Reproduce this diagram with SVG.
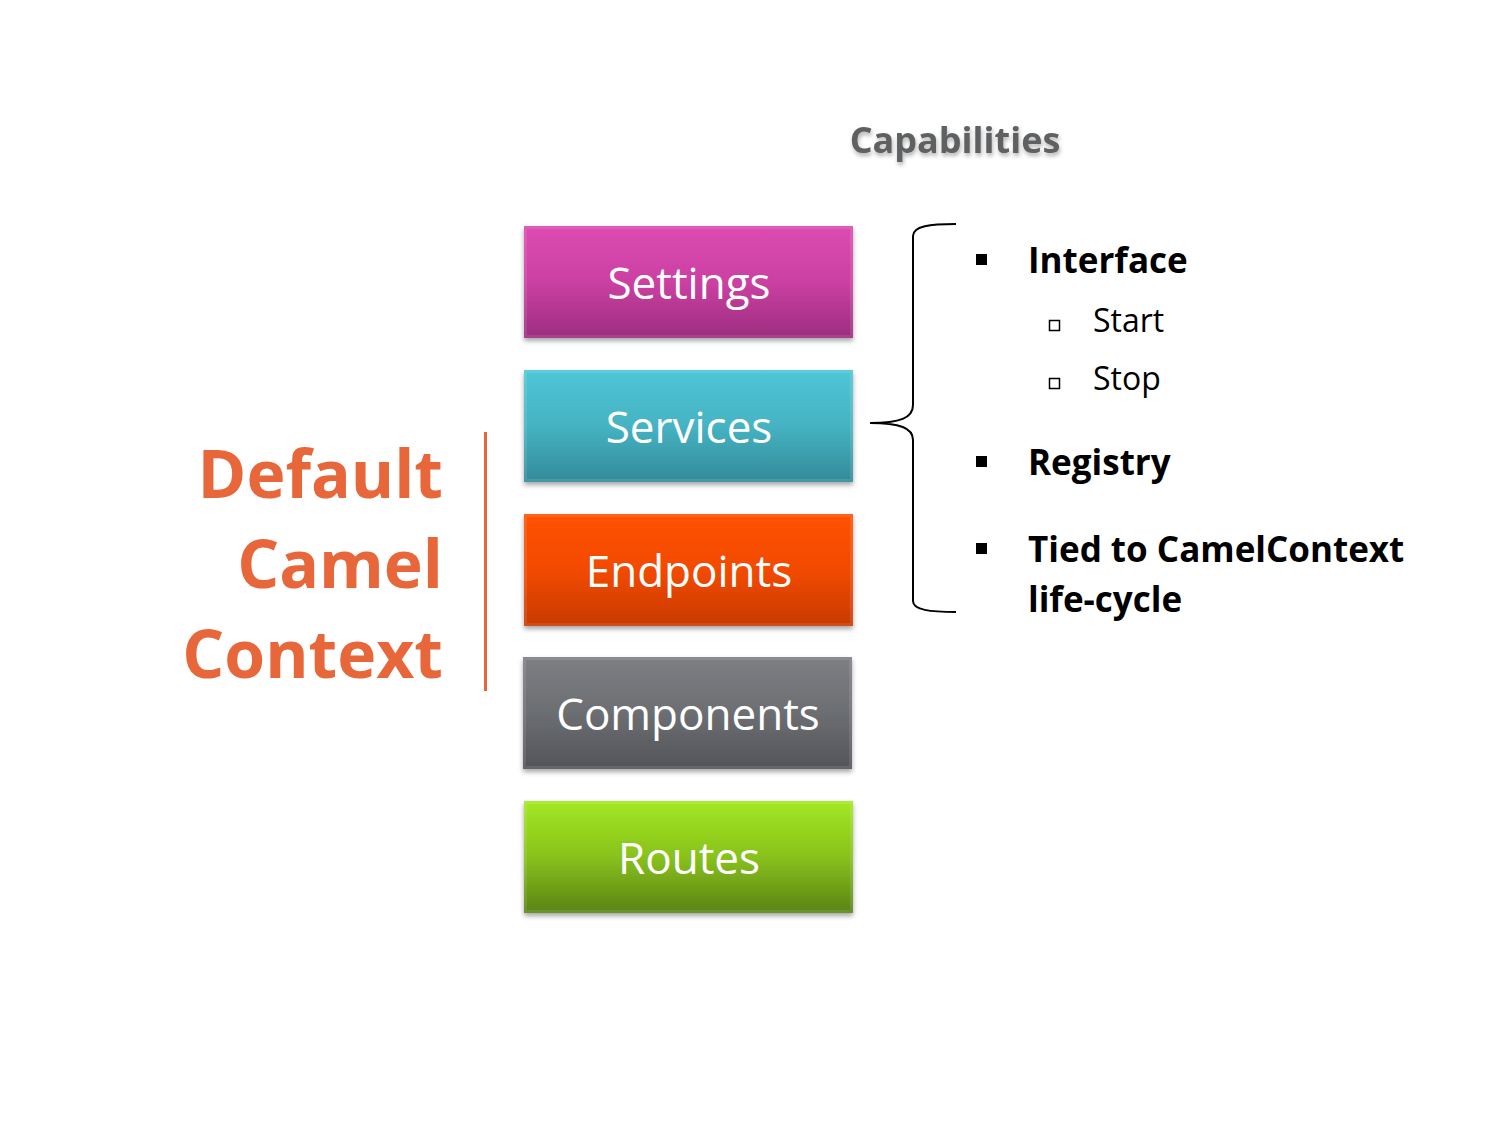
<svg xmlns="http://www.w3.org/2000/svg" width="1500" height="1125" viewBox="0 0 1500 1125">
<defs>
<linearGradient id="gSet" x1="0" y1="0" x2="0" y2="1"><stop offset="0" stop-color="#DC4BB2"/><stop offset="0.5" stop-color="#CB40A3"/><stop offset="1" stop-color="#9C2D7E"/></linearGradient>
<linearGradient id="gSer" x1="0" y1="0" x2="0" y2="1"><stop offset="0" stop-color="#4FC6D6"/><stop offset="0.5" stop-color="#45B3C3"/><stop offset="1" stop-color="#338A98"/></linearGradient>
<linearGradient id="gEnd" x1="0" y1="0" x2="0" y2="1"><stop offset="0" stop-color="#FF5206"/><stop offset="0.5" stop-color="#F24A04"/><stop offset="1" stop-color="#C83A02"/></linearGradient>
<linearGradient id="gCom" x1="0" y1="0" x2="0" y2="1"><stop offset="0" stop-color="#7D7F83"/><stop offset="0.5" stop-color="#6C6E72"/><stop offset="1" stop-color="#525458"/></linearGradient>
<linearGradient id="gRou" x1="0" y1="0" x2="0" y2="1"><stop offset="0" stop-color="#A4E822"/><stop offset="0.5" stop-color="#88C11C"/><stop offset="1" stop-color="#5A8316"/></linearGradient>
<filter id="sh" x="-10%" y="-10%" width="120%" height="130%"><feDropShadow dx="0" dy="3" stdDeviation="2.5" flood-color="#000" flood-opacity="0.35"/></filter>
<filter id="tsh" x="-10%" y="-20%" width="120%" height="150%"><feDropShadow dx="1" dy="3" stdDeviation="2" flood-color="#000" flood-opacity="0.3"/></filter>
</defs>
<style>
.lbl{font-family:"Open Sans","Noto Sans","DejaVu Sans",sans-serif;font-size:44px;fill:#fff;text-anchor:middle}
.bev{fill:none;stroke:#fff;stroke-opacity:0.1;stroke-width:3}
.title{font-family:"Open Sans","Noto Sans",sans-serif;font-weight:bold;font-size:66px;fill:#E8673A;text-anchor:end}
.b1{font-family:"Open Sans","Noto Sans",sans-serif;font-weight:bold;font-size:35px;fill:#000}
.b2{font-family:"Open Sans","Noto Sans",sans-serif;font-size:32px;fill:#000}
</style>
<rect width="1500" height="1125" fill="#fff"/>
<text x="955" y="153" font-family="'Open Sans','Noto Sans',sans-serif" font-weight="bold" font-size="36" fill="#5F6062" text-anchor="middle" filter="url(#tsh)">Capabilities</text>
<g id="title">
<text class="title" x="443" y="498">Default</text>
<text class="title" x="443" y="588">Camel</text>
<text class="title" x="443" y="678">Context</text>
<line x1="485.5" y1="432" x2="485.5" y2="691" stroke="#E8673A" stroke-width="3"/>
</g>
<g id="settings"><rect x="524" y="226" width="329" height="112" fill="url(#gSet)" filter="url(#sh)"/><rect class="bev" x="525.5" y="227.5" width="326" height="109"/><text class="lbl" x="689" y="299">Settings</text></g>
<g id="services"><rect x="524" y="370" width="329" height="112" fill="url(#gSer)" filter="url(#sh)"/><rect class="bev" x="525.5" y="371.5" width="326" height="109"/><text class="lbl" x="689" y="443">Services</text></g>
<g id="endpoints"><rect x="524" y="514" width="329" height="112" fill="url(#gEnd)" filter="url(#sh)"/><rect class="bev" x="525.5" y="515.5" width="326" height="109"/><text class="lbl" x="689" y="587">Endpoints</text></g>
<g id="components"><rect x="523" y="657" width="329" height="112" fill="url(#gCom)" filter="url(#sh)"/><rect class="bev" x="524.5" y="658.5" width="326" height="109"/><text class="lbl" x="688" y="730">Components</text></g>
<g id="routes"><rect x="524" y="801" width="329" height="112" fill="url(#gRou)" filter="url(#sh)"/><rect class="bev" x="525.5" y="802.5" width="326" height="109"/><text class="lbl" x="689" y="874">Routes</text></g>
<g id="connectors">
<path d="M956,224 C930,224 913,226 913,236 L913,405 C913,418 900,423 870,423 C900,423 913,428 913,440 L913,601 C913,610 930,612 956,612" fill="none" stroke="#000" stroke-width="2"/>
</g>
<g id="capabilities">
<rect x="976" y="254" width="11" height="11" fill="#000"/>
<text class="b1" x="1028" y="273">Interface</text>
<rect x="1049.5" y="320.5" width="10" height="10" fill="none" stroke="#000" stroke-width="1.5"/>
<text class="b2" x="1093" y="332">Start</text>
<rect x="1049.5" y="378.5" width="10" height="10" fill="none" stroke="#000" stroke-width="1.5"/>
<text class="b2" x="1093" y="390">Stop</text>
<rect x="976" y="456" width="11" height="11" fill="#000"/>
<text class="b1" x="1028" y="475">Registry</text>
<rect x="976" y="543" width="11" height="11" fill="#000"/>
<text class="b1" x="1028" y="562">Tied to CamelContext</text>
<text class="b1" x="1028" y="612">life-cycle</text>
</g>
</svg>
